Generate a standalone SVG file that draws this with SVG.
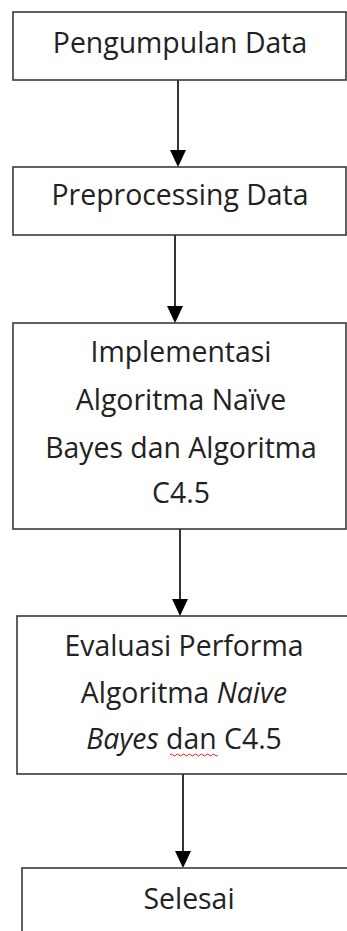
<svg xmlns="http://www.w3.org/2000/svg" width="347" height="931" viewBox="0 0 347 931">
  <style>
    .box { fill: #ffffff; stroke: #3a3a3a; stroke-width: 1.6; }
    .lbl { font-family: "Open Sans", "Noto Sans", "Liberation Sans", sans-serif; font-size: 28.4px; fill: #222222; text-anchor: middle; }
    .it { font-style: italic; }
    .edge { stroke: #000000; stroke-width: 1.6; fill: none; }
    .spell { stroke: #e02020; stroke-width: 1; fill: none; }
  </style>
  <rect width="347" height="931" fill="#ffffff"/>

  <g id="connectors">
    <line class="edge" x1="178" y1="80" x2="178" y2="150"/>
    <path d="M170,150 L186,150 L178,167 Z" fill="#000"/>
    <line class="edge" x1="175" y1="235" x2="175" y2="306"/>
    <path d="M167,306 L183,306 L175,323 Z" fill="#000"/>
    <line class="edge" x1="180" y1="529" x2="180" y2="599"/>
    <path d="M172,599 L188,599 L180,616 Z" fill="#000"/>
    <line class="edge" x1="183" y1="774" x2="183" y2="851"/>
    <path d="M175,851 L191,851 L183,868 Z" fill="#000"/>
  </g>

  <g id="pengumpulan">
    <rect class="box" x="13" y="12" width="333" height="68"/>
    <text class="lbl" x="180" y="53">Pengumpulan Data</text>
  </g>

  <g id="preprocessing">
    <rect class="box" x="13" y="167" width="333" height="68"/>
    <text class="lbl" x="180" y="205">Preprocessing Data</text>
  </g>

  <g id="implementasi">
    <rect class="box" x="13" y="323" width="333" height="206"/>
    <text class="lbl" x="181" y="362">Implementasi</text>
    <text class="lbl" x="181" y="410">Algoritma Naïve</text>
    <text class="lbl" x="181" y="458">Bayes dan Algoritma</text>
    <text class="lbl" x="181" y="503">C4.5</text>
  </g>

  <g id="evaluasi">
    <rect class="box" x="17" y="616" width="345" height="158"/>
    <text class="lbl" x="184" y="656">Evaluasi Performa</text>
    <text class="lbl" x="184" y="703">Algoritma <tspan class="it">Naive</tspan></text>
    <text class="lbl" x="184" y="749"><tspan class="it">Bayes</tspan> dan C4.5</text>
    <path class="spell" d="M170,755 q1.5,-2 3,0 t3,0 t3,0 t3,0 t3,0 t3,0 t3,0 t3,0 t3,0 t3,0 t3,0 t3,0 t3,0 t3,0 t3,0 t3,0"/>
  </g>

  <g id="selesai">
    <rect class="box" x="22" y="868" width="345" height="80"/>
    <text class="lbl" x="189" y="909">Selesai</text>
  </g>
</svg>
